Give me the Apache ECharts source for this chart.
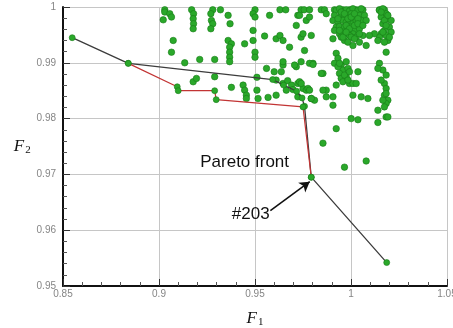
<!DOCTYPE html>
<html>
<head>
<meta charset="utf-8">
<script src="https://cdn.jsdelivr.net/npm/echarts@6/dist/echarts.min.js"></script>
<style>
  html, body { margin: 0; padding: 0; background: #fff; }
  #chart { width: 453px; height: 328px; }
</style>
</head>
<body>
<div id="chart"></div>
<script>
// Axis ticks
const f1Ticks = ['0.85', '0.9', '0.95', '1', '1.05'];
const f2Ticks = ['0.95', '0.96', '0.97', '0.98', '0.99', '1'];

// Non-dominated path through the objective space (black)
const frontF1 = [0.8548, 0.8840, 0.9592, 0.9649, 0.9717, 0.9745, 0.9758, 0.9793, 1.0186];
const frontF2 = [0.9945, 0.9899, 0.9870, 0.9860, 0.9849, 0.9837, 0.9822, 0.9695, 0.9542];

// Alternative front (red)
const altF1 = [0.8840, 0.9095, 0.9100, 0.9290, 0.9298, 0.9750, 0.9793];
const altF2 = [0.9899, 0.9857, 0.9850, 0.9850, 0.9834, 0.9821, 0.9695];

// Highlighted design #203
const designF1 = 0.9793;
const designF2 = 0.9695;

// Evaluated designs [F1, F2]
const designs = [
  [0.903,0.9995],[0.917,0.9995],[0.928,0.9995],[0.932,0.9995],[0.950,0.9995],[0.963,0.9995],[0.966,0.9995],[0.974,0.9995],
  [0.903,0.9991],[0.9056,0.9988],[0.9065,0.9982],[0.9022,0.9977],[0.918,0.9988],[0.9178,0.9979],[0.918,0.997],[0.9178,0.9961],
  [0.927,0.9988],[0.9273,0.9976],[0.928,0.997],[0.927,0.9961],[0.936,0.9985],[0.937,0.997],[0.949,0.9988],[0.950,0.9982],
  [0.949,0.9958],[0.9576,0.9985],[0.9723,0.9985],[0.9715,0.9967],[0.9767,0.9976],[0.9074,0.994],[0.9065,0.9919],[0.936,0.994],
  [0.9377,0.9934],[0.9368,0.9928],[0.9368,0.9919],[0.9368,0.991],[0.9368,0.9902],[0.9446,0.9934],[0.949,0.994],[0.950,0.9919],
  [0.950,0.991],[0.955,0.9948],[0.961,0.9943],[0.963,0.9949],[0.9646,0.994],[0.968,0.9928],[0.974,0.9946],[0.9758,0.9922],
  [0.9134,0.990],[0.9212,0.9906],[0.929,0.9906],[0.956,0.989],[0.960,0.9884],[0.9637,0.9884],[0.9646,0.9896],[0.9715,0.9893],
  [0.974,0.9902],[0.9178,0.9866],[0.9195,0.9872],[0.929,0.9875],[0.951,0.9874],[0.961,0.9869],[0.9646,0.9863],[0.967,0.9868],
  [0.969,0.986],[0.9723,0.9863],[0.975,0.9854],[0.9377,0.9856],[0.9438,0.986],[0.9446,0.9851],[0.9455,0.9842],[0.9455,0.9836],
  [0.951,0.9851],[0.9516,0.9836],[0.9568,0.9838],[0.961,0.9842],[0.9663,0.9851],[0.9698,0.9852],[0.9723,0.9839],
  [0.9756,0.9995],[0.9784,0.9995],[0.9845,0.9995],[0.9862,0.9995],[0.9914,0.9995],[0.9958,0.9995],[0.9992,0.9995],[1.0027,0.9995],
  [1.0062,0.9995],[1.0148,0.9995],[1.0174,0.9995],
  [0.9923,0.9994],[0.994,0.9997],[0.9958,0.9991],[0.9975,0.9995],[0.9992,0.9993],[1.001,0.9997],[1.0036,0.9994],[1.0053,0.9997],
  [0.9914,0.9985],[0.9949,0.9985],[0.9966,0.9982],[0.9984,0.9985],[1.0001,0.9988],[1.0018,0.9982],[1.0044,0.9985],[1.007,0.9985],
  [0.9906,0.9976],[0.9932,0.9973],[0.9958,0.9976],[0.9975,0.9973],[0.9992,0.9976],[1.001,0.997],[1.0027,0.9975],[1.0053,0.9976],
  [1.0079,0.9976],[0.9923,0.9964],[0.994,0.9965],[0.9966,0.9964],[0.9984,0.9961],[1.0001,0.9964],[1.0018,0.9958],[1.0044,0.9961],
  [0.9958,0.9955],[0.9984,0.9952],[1.001,0.9952],[0.994,0.9952],[0.9914,0.9958],[0.9906,0.9943],[0.9949,0.9946],[0.9966,0.994],
  [0.9992,0.9949],[1.0027,0.9946],[1.0062,0.9949],[1.0044,0.9937],[1.0079,0.9931],
  [0.9949,0.9991],[0.9966,0.9988],[0.9984,0.9979],[1.0001,0.9982],[1.0018,0.9988],[1.0036,0.9979],[0.9975,0.9967],[0.9992,0.9961],
  [1.0018,0.9967],[1.0036,0.997],[0.9958,0.9946],[0.9975,0.9955],[1.0001,0.9946],[1.0018,0.9943],[0.9932,0.9979],[0.994,0.9958],
  [1.0062,0.9967],[1.0044,0.9952],[0.9984,0.9937],[1.001,0.9931],
  [0.9732,0.9985],[0.9784,0.9982],[0.975,0.9952],[0.9793,0.9949],[0.9871,0.9988],
  [1.0148,0.9994],[1.0166,0.9997],[1.0157,0.9982],[1.0183,0.9988],[1.0192,0.9979],[1.0209,0.9976],[1.0166,0.997],[1.02,0.9964],
  [1.0174,0.9958],[1.0209,0.9955],[1.0157,0.9952],[1.0183,0.9949],[1.0148,0.9946],[1.0122,0.9952],[1.014,0.994],[1.0096,0.9949],
  [1.0192,0.994],[1.0157,0.9991],[1.0174,0.9976],[1.0183,0.9967],[1.0166,0.9955],[1.02,0.9946],[1.0192,0.9985],[1.0174,0.9937],
  [1.0183,0.9919],
  [0.9923,0.9917],[0.9932,0.9908],[0.9914,0.9899],[0.9949,0.9896],[0.9975,0.9902],[0.9958,0.9887],[0.9984,0.989],[0.994,0.9881],
  [0.9975,0.9875],[0.9992,0.9863],[1.001,0.9863],[1.0027,0.9863],[1.0036,0.9884],[0.9949,0.9872],[0.9854,0.9881],[0.9802,0.9899],
  [0.9767,0.9851],[0.9793,0.9836],[0.981,0.9833],[0.9871,0.9851],[0.9906,0.9839],[0.9906,0.9824],[1.001,0.9842],[1.0053,0.9839],
  [1.0088,0.9836],[0.9923,0.986],[0.9932,0.9893],[0.9966,0.9878],[0.9958,0.9866],[0.9984,0.9869],[0.994,0.9899],[0.9992,0.9884],
  [1.0148,0.9899],[1.0166,0.9887],[1.014,0.989],[1.0183,0.9878],[1.0174,0.9863],[1.0183,0.9854],[1.0174,0.9842],[1.0192,0.9833],
  [1.0183,0.9827],[1.0174,0.9821],[1.014,0.9815],[1.0157,0.9869],[1.0183,0.9845],[1.0166,0.9833],
  [1.0001,0.980],[1.0036,0.9798],[1.0183,0.9803],[1.0192,0.9803],[0.9923,0.9782],[0.9854,0.9756],[0.9966,0.9713],[1.0079,0.9724],
  [1.014,0.9793],[0.9732,0.9866],[0.9776,0.9854],
  [0.9646,0.9902],[0.9706,0.9896],[0.9784,0.9899],[0.9802,0.9897],[0.9845,0.9881],[0.9741,0.9863],[0.9854,0.9851],[0.9871,0.9839],
  [0.9793,0.9836],[0.9784,0.9851]
];

const zip = (a, b) => a.map((v, i) => [v, b[i]]);

const dotStyle = { color: '#2aa82a', borderColor: '#187c18', borderWidth: 0.6, opacity: 1 };
const tickFont = { color: '#858585', fontSize: 10, fontFamily: 'Liberation Sans, Arial, sans-serif' };
const nameRich = {
  f: { fontFamily: 'Liberation Serif, Times New Roman, serif', fontStyle: 'italic', fontSize: 17, color: '#111' },
  s: { fontFamily: 'Liberation Serif, Times New Roman, serif', fontSize: 11, color: '#111', padding: [8, 0, 0, 1] }
};

function axisCommon() {
  return {
    type: 'value',
    axisLine: { show: true, onZero: false, lineStyle: { color: '#111', width: 2 } },
    axisTick: { show: true, inside: true, length: 7, lineStyle: { color: '#333', width: 1 } },
    minorTick: { show: true, splitNumber: 5, length: 4, lineStyle: { color: '#555', width: 1 } },
    splitLine: { show: true, lineStyle: { color: '#c6c6c6', width: 1 } },
    nameRotate: 0
  };
}

const chart = echarts.init(document.getElementById('chart'), null, { renderer: 'canvas' });

chart.setOption({
  animation: false,
  backgroundColor: '#fff',
  grid: { left: 63, top: 7, width: 384, height: 279, containLabel: false, outerBoundsMode: 'none' },
  xAxis: Object.assign(axisCommon(), {
    min: 0.85, max: 1.05, interval: 0.05,
    axisLabel: Object.assign({ margin: 3, formatter: (v, i) => f1Ticks[i] }, tickFont),
    name: '{f|F}{s|1}',
    nameLocation: 'middle',
    nameGap: 23,
    nameTextStyle: { rich: nameRich, align: 'center', verticalAlign: 'top' }
  }),
  yAxis: Object.assign(axisCommon(), {
    min: 0.95, max: 1, interval: 0.01,
    axisLabel: Object.assign({ margin: 7, formatter: (v, i) => f2Ticks[i] }, tickFont),
    name: '{f|F}{s|2}',
    nameLocation: 'middle',
    nameGap: 40,
    nameTextStyle: { rich: nameRich, align: 'center', verticalAlign: 'middle' }
  }),
  series: [
    {
      name: 'designs',
      type: 'scatter',
      data: designs,
      symbol: 'circle',
      symbolSize: 6.5,
      itemStyle: dotStyle,
      z: 2
    },
    {
      name: 'front',
      type: 'line',
      data: zip(frontF1, frontF2),
      symbol: 'circle',
      symbolSize: 6,
      showSymbol: true,
      itemStyle: dotStyle,
      lineStyle: { color: '#3c3c3c', width: 1.3 },
      z: 3
    },
    {
      name: 'alternative',
      type: 'line',
      data: zip(altF1, altF2),
      symbol: 'circle',
      symbolSize: 6,
      showSymbol: true,
      itemStyle: dotStyle,
      lineStyle: { color: '#c23434', width: 1.2 },
      z: 4
    },
    {
      name: 'annotations',
      type: 'scatter',
      data: [],
      silent: true,
      markPoint: {
        symbol: 'circle',
        symbolSize: 0,
        label: { show: true, position: 'inside', color: '#111', fontSize: 17, fontFamily: 'Liberation Sans, Arial, sans-serif' },
        data: [
          { coord: [0.9446, 0.9722], label: { formatter: 'Pareto front' } },
          { coord: [0.9478, 0.9629], label: { formatter: '#203' } }
        ]
      },
      markLine: {
        silent: true,
        symbol: ['none', 'arrow'],
        symbolSize: [9, 10],
        label: { show: false },
        lineStyle: { color: '#111', width: 1.6, type: 'solid' },
        data: [[{ coord: [0.9580, 0.9635] }, { coord: [designF1 - 0.0008, designF2 - 0.0008] }]]
      },
      z: 5
    }
  ]
});
</script>
</body>
</html>
